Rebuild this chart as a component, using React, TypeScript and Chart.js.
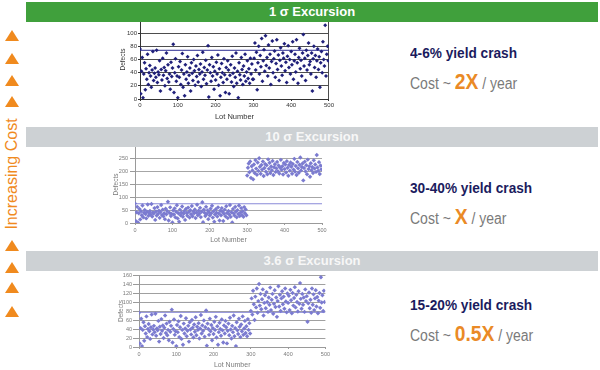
import React, { useEffect, useRef } from 'react';
import { Chart, registerables } from 'chart.js';
Chart.register(...registerables);

// Lot numbers are sampled every LOT_STEP lots, 0..498
const LOT_STEP = 2;
const LOT_MIN = 0;
const LOT_MAX = 500;

// Lots 0-298: the in-control period, shared by all three charts
const baseDefects = [
  76, 8, 42, 63, 2, 38, 55, 14, 46, 30, 68, 22, 40, 51, 35, 18, 44, 72, 28, 39, 47, 33, 74, 25, 41,
  37, 58, 12, 45, 29, 62, 36, 48, 20, 43, 70, 31, 52, 26, 38, 15, 56, 34, 47, 83, 10, 40, 61, 27, 35,
  2, 49, 33, 57, 22, 44, 69, 18, 38, 5, 52, 30, 41, 64, 24, 36, 47, 12, 55, 39, 28, 60, 43, 21, 50,
  34, 66, 26, 45, 38, 53, 19, 41, 71, 30, 48, 36, 59, 23, 44, 81, 3, 52, 40, 27, 63, 35, 49, 15, 42,
  29, 56, 38, 67, 21, 46, 5, 33, 54, 40, 25, 61, 37, 10, 48, 30, 58, 44, 8, 36, 52, 26, 65, 39, 19,
  47, 33, 70, 24, 42, 2, 55, 37, 29, 63, 45, 22, 50, 35, 68, 27, 41, 58, 31, 46, 24, 62, 38, 53, 30,
];

// Lots 300-498 for each excursion
const tail1Sigma = [
  30, 62, 85, 44, 71, 14, 55, 80, 38, 66, 49, 92, 27, 58, 75, 42, 96, 51, 63, 35, 82, 47, 68, 22, 57,
  88, 40, 61, 73, 33, 54, 90, 45, 67, 28, 59, 78, 50, 36, 70, 62, 84, 43, 56, 25, 65, 81, 48, 60, 38,
  72, 52, 87, 30, 58, 68, 41, 90, 55, 24, 63, 77, 46, 59, 35, 70, 98, 50, 62, 28, 74, 44, 66, 85, 52,
  57, 38, 70, 12, 61, 80, 48, 66, 33, 58, 76, 45, 64, 18, 55, 72, 40, 87, 60, 50, 112, 35, 68, 80, 58,
];
const tail10Sigma = [
  185, 215, 232, 198, 240, 176, 221, 205, 170, 228, 195, 245, 212, 188, 236, 203, 252, 219, 192, 226, 208, 240, 183, 214, 230,
  200, 225, 190, 248, 211, 235, 195, 220, 206, 242, 187, 217, 229, 199, 213, 238, 202, 224, 193, 216, 246, 207, 221, 189, 234,
  210, 228, 197, 241, 215, 184, 226, 204, 236, 219, 192, 230, 208, 250, 200, 222, 187, 238, 213, 196, 227, 255, 205, 218, 232,
  166, 214, 239, 201, 225, 190, 247, 210, 221, 180, 233, 206, 218, 195, 244, 212, 228, 199, 265, 216, 203, 237, 191, 224, 209,
];
const tail36Sigma = [
  80, 108, 72, 125, 95, 60, 112, 88, 130, 76, 102, 140, 92, 118, 84, 106, 128, 70, 98, 115, 86, 122, 100, 78, 110,
  94, 132, 82, 105, 118, 74, 96, 126, 89, 110, 67, 102, 135, 90, 116, 80, 108, 124, 95, 112, 85, 130, 101, 77, 119,
  98, 114, 82, 127, 104, 75, 120, 92, 109, 133, 88, 116, 100, 79, 124, 96, 142, 107, 85, 118, 94, 110, 78, 128, 102,
  113, 56, 97, 121, 86, 105, 76, 130, 94, 117, 82, 108, 126, 90, 111, 75, 103, 120, 87, 155, 99, 115, 80, 125, 100,
];

const uclLimits = [74, 75, 77];
const panelTitles = ['1 σ Excursion', '10 σ Excursion', '3.6 σ Excursion'];
const yieldTexts = ['4-6% yield crash', '30-40% yield crash', '15-20% yield crash'];
const costFactors = ['2X', 'X', '0.5X'];

type Cfg = {
  data: number[]; ucl: number; yMax: number; yStep: number; labelMax: number;
  left: number; top: number; width: number; height: number; yw: number; xh: number; pt: number; pr: number;
  pointColor: string; pointRadius: number; gridColor: string; axisColor: string; labelColor: string; uclColor: string;
  tickSize: number; xTitleSize: number; yTitleSize: number;
  yTickLen: number; yTickPad: number; xTickLen: number; xTickPad: number; yTitlePad: number;
  rightBorder?: string;
};

function ScatterPanel({ cfg }: { cfg: Cfg }) {
  const ref = useRef<HTMLCanvasElement | null>(null);
  useEffect(() => {
    if (!ref.current) return;
    const font = (s: number) => ({ family: '"Liberation Sans", Arial, sans-serif', size: s });
    const chart = new Chart(ref.current, {
      type: 'scatter',
      data: {
        datasets: [
          {
            data: cfg.data.map((v, i) => ({ x: i * LOT_STEP, y: v })),
            pointStyle: 'rectRot',
            pointRadius: cfg.pointRadius,
            backgroundColor: cfg.pointColor,
            borderColor: cfg.pointColor,
            borderWidth: 0,
            order: 1,
          } as any,
          {
            type: 'line',
            data: [{ x: LOT_MIN, y: cfg.ucl }, { x: LOT_MAX, y: cfg.ucl }],
            borderColor: cfg.uclColor,
            borderWidth: 1,
            pointRadius: 0,
            order: 2,
          } as any,
        ],
      },
      options: {
        animation: false,
        responsive: false,
        layout: { padding: { top: cfg.pt, right: cfg.pr, left: 0, bottom: 0 } },
        plugins: { legend: { display: false }, tooltip: { enabled: false } },
        scales: {
          x: {
            type: 'linear', min: LOT_MIN, max: LOT_MAX,
            ticks: { stepSize: 100, font: font(cfg.tickSize), color: cfg.labelColor, padding: cfg.xTickPad, maxRotation: 0, autoSkip: false },
            grid: {
              drawOnChartArea: true,
              color: (c: any) => (cfg.rightBorder && c.tick && c.tick.value === LOT_MAX ? cfg.rightBorder : 'rgba(0,0,0,0)'),
              tickColor: cfg.axisColor,
              tickLength: cfg.xTickLen,
            },
            border: { color: cfg.axisColor },
            title: { display: true, text: 'Lot Number', font: font(cfg.xTitleSize), color: cfg.labelColor, padding: { top: 0, bottom: 1 } },
            afterFit: (s: any) => { s.height = cfg.xh; },
          },
          y: {
            min: 0, max: cfg.yMax,
            ticks: {
              stepSize: cfg.yStep, font: font(cfg.tickSize), color: cfg.labelColor, padding: cfg.yTickPad, autoSkip: false,
              callback: (v: any) => (v <= cfg.labelMax ? String(v) : ''),
            },
            grid: {
              color: (c: any) => (c.tick && c.tick.value <= cfg.labelMax ? cfg.gridColor : 'rgba(0,0,0,0)'),
              tickColor: cfg.axisColor,
              tickLength: cfg.yTickLen,
            },
            border: { color: cfg.axisColor },
            title: { display: true, text: 'Defects', font: font(cfg.yTitleSize), color: cfg.labelColor, padding: { top: cfg.yTitlePad, bottom: 0 } },
            afterFit: (s: any) => { s.width = cfg.yw; },
          },
        },
      } as any,
    });
    return () => chart.destroy();
  }, [cfg]);
  return (
    <canvas
      ref={ref}
      width={cfg.width}
      height={cfg.height}
      style={{ position: 'absolute', left: cfg.left, top: cfg.top, width: cfg.width, height: cfg.height, zIndex: 1 }}
    />
  );
}

const cfg1: Cfg = {
  data: [...baseDefects, ...tail1Sigma], ucl: uclLimits[0], yMax: 120, yStep: 20, labelMax: 100,
  left: 100, top: 14, width: 235, height: 108, yw: 40, xh: 23, pt: 6, pr: 6,
  pointColor: '#1f1f7a', pointRadius: 2, gridColor: '#4d4d4d', axisColor: '#333333', labelColor: '#333333', uclColor: '#2b2b90',
  tickSize: 6, xTitleSize: 7.5, yTitleSize: 6.5, yTickLen: 2, yTickPad: 1, xTickLen: 2, xTickPad: 1, yTitlePad: 19,
  rightBorder: '#4d4d4d',
};
const cfg2: Cfg = {
  data: [...baseDefects, ...tail10Sigma], ucl: uclLimits[1], yMax: 300, yStep: 50, labelMax: 250,
  left: 100, top: 140, width: 230, height: 105, yw: 35, xh: 22, pt: 6, pr: 8,
  pointColor: '#7b7bd0', pointRadius: 2.2, gridColor: '#a6a6a6', axisColor: '#9a9a9a', labelColor: '#7a7a7a', uclColor: '#8a8ad8',
  tickSize: 5.5, xTitleSize: 7, yTitleSize: 6.5, yTickLen: 5, yTickPad: 2, xTickLen: 2, xTickPad: 2, yTitlePad: 12,
};
const cfg3: Cfg = {
  data: [...baseDefects, ...tail36Sigma], ucl: uclLimits[2], yMax: 160, yStep: 20, labelMax: 160,
  left: 100, top: 270, width: 232, height: 100, yw: 39, xh: 23, pt: 5, pr: 6,
  pointColor: '#7b7bd0', pointRadius: 2.2, gridColor: '#a0a0a0', axisColor: '#9a9a9a', labelColor: '#7a7a7a', uclColor: '#8a8ad8',
  tickSize: 5.5, xTitleSize: 7, yTitleSize: 6.5, yTickLen: 6, yTickPad: 1, xTickLen: 2, xTickPad: 2, yTitlePad: 17,
};

const ORANGE = '#f08a1e';
const triangleYs = [35, 58, 80, 101, 245, 267, 287, 311];
const barTops = [2, 127, 251];
const barColors = ['#40a03c', '#cdd1d4', '#cdd1d4'];
const barTextColors = ['#ffffff', '#f7f7f7', '#f7f7f7'];
const yieldYs = [53, 188, 305];
const costYs = [82, 217, 334];

export default function App() {
  return (
    <div style={{ position: 'fixed', left: 0, top: 0, width: 600, height: 370, background: '#ffffff', overflow: 'hidden', fontFamily: '"Liberation Sans", Arial, sans-serif' }}>
      {barTops.map((t, i) => (
        <div key={'bar' + i} style={{ position: 'absolute', left: 26, top: t, width: 572, height: 20, background: barColors[i], zIndex: 2, color: barTextColors[i], fontWeight: 700, fontSize: 13, lineHeight: '20px', textAlign: 'center' }}>
          {panelTitles[i]}
        </div>
      ))}
      {triangleYs.map((y, i) => (
        <div key={'tri' + i} style={{ position: 'absolute', left: 5, top: y - 5.5, width: 0, height: 0, borderLeft: '7px solid transparent', borderRight: '7px solid transparent', borderBottom: `11px solid ${ORANGE}` }} />
      ))}
      <div style={{ position: 'absolute', left: 12, top: 174, transform: 'translate(-50%, -50%) rotate(-90deg)', whiteSpace: 'nowrap', fontSize: 16, lineHeight: '18px', color: ORANGE }}>
        Increasing Cost
      </div>
      <ScatterPanel cfg={cfg1} />
      <ScatterPanel cfg={cfg2} />
      <ScatterPanel cfg={cfg3} />
      {yieldYs.map((y, i) => (
        <div key={'yt' + i} style={{ position: 'absolute', left: 410, top: y - 10, lineHeight: '20px', fontSize: 15, fontWeight: 700, color: '#1b1b5e', whiteSpace: 'nowrap', transform: 'scaleX(0.91)', transformOrigin: 'left center' }}>
          {yieldTexts[i]}
        </div>
      ))}
      {costYs.map((y, i) => (
        <div key={'ct' + i} style={{ position: 'absolute', left: 410, top: y - 13, lineHeight: '26px', fontSize: 16, color: '#7a7a7a', whiteSpace: 'nowrap', transform: 'scaleX(0.875)', transformOrigin: 'left center' }}>
          Cost ~ <span style={{ fontSize: 22, fontWeight: 700, color: '#ea8a26' }}>{costFactors[i]}</span> / year
        </div>
      ))}
    </div>
  );
}
